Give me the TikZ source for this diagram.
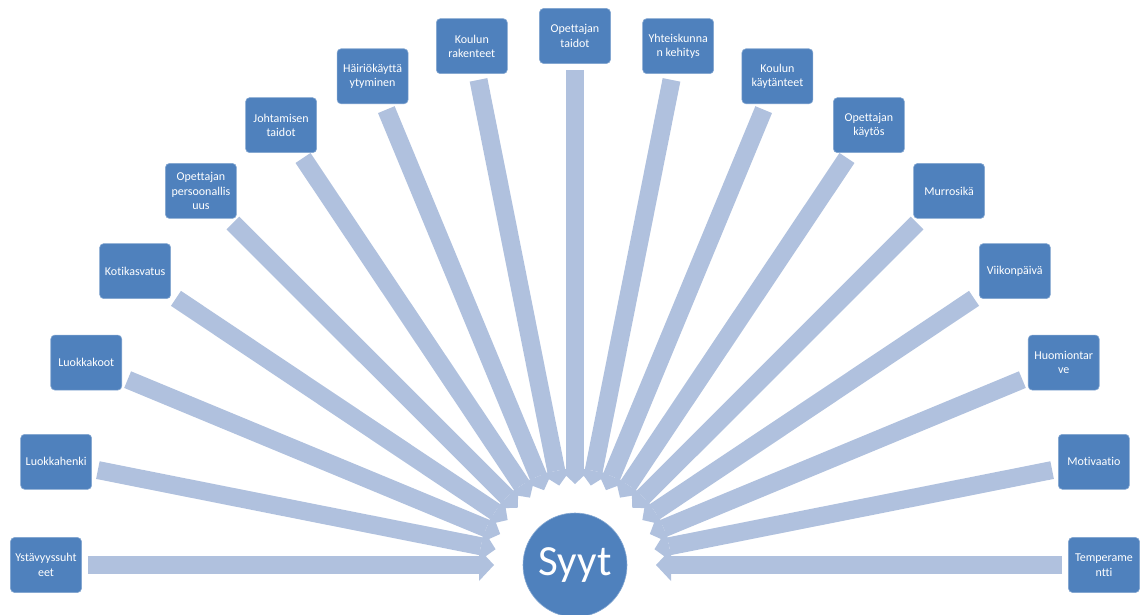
\documentclass[tikz,border=0pt]{standalone}
\usepackage{fontspec}
\setmainfont{Carlito}[Ligatures=NoCommon]
\usetikzlibrary{arrows.meta}
\definecolor{boxblue}{HTML}{4F81BD}
\definecolor{arrowblue}{HTML}{B0C1DE}
\begin{document}
\begin{tikzpicture}[x=1pt,y=-1pt,
  cause/.style={rectangle, rounded corners=4pt, fill=boxblue, draw=boxblue!70!white, line width=0.6pt,
    minimum width=71pt, minimum height=55pt, inner sep=1pt, text=white, align=center,
    font=\fontsize{12}{14.5}\selectfont},
  hub/.style={circle, fill=boxblue, draw=boxblue!70!white, line width=0.6pt, minimum size=104pt,
    inner sep=0pt, outer sep=0pt, text=white, font=\fontsize{43}{50}\selectfont},
  flow/.style={draw=arrowblue, line width=18pt, line cap=butt,
    -{Triangle[width=32pt,length=15pt,line width=0pt]}, shorten <=6pt, shorten >=29pt}]
\clip (0,0) rectangle (1146,615);
\useasboundingbox (0,0) rectangle (1146,615);
\node[hub] (syyt) at (575,565) {Syyt};
\foreach \i/\t in {0/{Ystävyyssuht\\eet},1/{Luokkahenki},2/{Luokkakoot},3/{Kotikasvatus},
  4/{Opettajan\\persoonallis\\uus},5/{Johtamisen\\taidot},6/{Häiriökäyttä\\ytyminen},
  7/{Koulun\\rakenteet},8/{Opettajan\\taidot},9/{Yhteiskunna\\n kehitys},
  10/{Koulun\\käytänteet},11/{Opettajan\\käytös},12/{Murrosikä},13/{Viikonpäivä},
  14/{Huomiontar\\ve},15/{Motivaatio},16/{Temperame\\ntti}}{
  \pgfmathsetmacro\bx{575+529*cos(180-11.25*\i)}
  \pgfmathsetmacro\by{565-529*sin(180-11.25*\i)}
  \node[cause] (b\i) at (\bx,\by) {\t};
}
\foreach \i in {0,...,16}{
  \draw[flow] (b\i) -- (syyt);
}
\end{tikzpicture}
\end{document}
